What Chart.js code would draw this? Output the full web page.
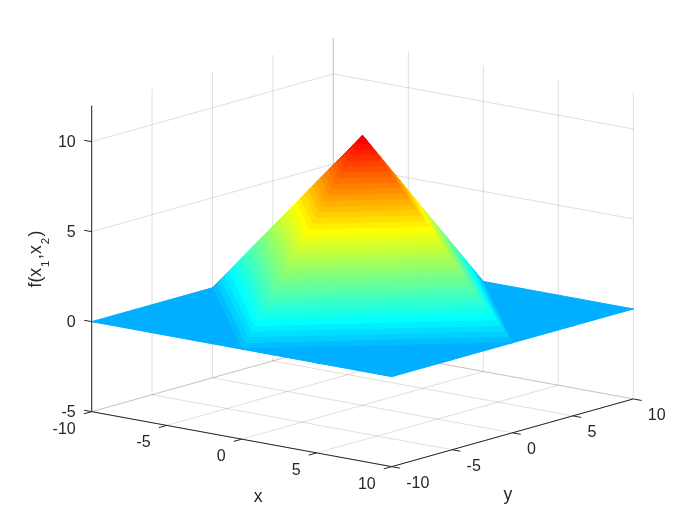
<!DOCTYPE html>
<html>
<head>
<meta charset="utf-8">
<title>f(x1,x2)</title>
<script src="https://cdn.jsdelivr.net/npm/chart.js@4"></script>
<style>
  html, body { margin: 0; padding: 0; background: #fff; }
  canvas { display: block; }
</style>
</head>
<body>
<canvas id="surfaceChart" width="700" height="525"></canvas>
<script>
// Surface values
const gridX = [-10, -5, 0, 5, 10];
const gridY = [-10, -5, 0, 5, 10];
const surfaceZ = [
  [0, 0, 0, 0, 0],
  [0, 0, 5, 0, 0],
  [0, 5, 10, 5, 0],
  [0, 0, 5, 0, 0],
  [0, 0, 0, 0, 0],
];

// Axes
const xTicks = [-10, -5, 0, 5, 10];
const yTicks = [-10, -5, 0, 5, 10];
const zTicks = [-5, 0, 5, 10];
const xLimits = [-10, 10];
const yLimits = [-10, 10];
const zLimits = [-5, 12];

const TEXT_COLOR = "rgb(38,38,38)";
const GRID_COLOR = "rgba(38,38,38,0.15)";
const TICK_FONT = '16px "Liberation Sans", Arial, sans-serif';
const TITLE_FONT = '17.6px "Liberation Sans", Arial, sans-serif';
const SUB_FONT = '11.5px "Liberation Sans", Arial, sans-serif';

// Orthographic view, same as the plot's 3D camera
function project(x, y, z) {
  return { x: 15 * x + 12.08 * y, y: 18 * z - 2.75 * x + 3.385 * y };
}

function depth(x, y, z) {
  return 216.9 * x - 270 * y + 84.7 * z;
}

// MATLAB jet colormap, 64 levels
function jetColors(m) {
  const n = Math.ceil(m / 4);
  const u = [];
  for (let i = 1; i <= n; i++) u.push(i / n);
  for (let i = 1; i < n; i++) u.push(1);
  for (let i = n; i >= 1; i--) u.push(i / n);
  const start = Math.ceil(n / 2);
  const out = [];
  for (let i = 0; i < m; i++) {
    const g = u[i - start] || 0;
    const r = u[i - start - n] || 0;
    const b = u[i - start + n] || 0;
    out.push(`rgb(${Math.round(r * 255)},${Math.round(g * 255)},${Math.round(b * 255)})`);
  }
  return out;
}
const jet = jetColors(64);
const levelSize = (zLimits[1] - zLimits[0]) / 64;

function levelOf(z) {
  return Math.min(63, Math.floor((z - zLimits[0]) / levelSize));
}

// Keep the part of a polygon on one side of a height
function clipAt(poly, z, keepAbove) {
  const out = [];
  for (let i = 0; i < poly.length; i++) {
    const a = poly[i];
    const b = poly[(i + 1) % poly.length];
    const aIn = keepAbove ? a[2] >= z : a[2] <= z;
    const bIn = keepAbove ? b[2] >= z : b[2] <= z;
    if (aIn) out.push(a);
    if (aIn !== bIn) {
      const t = (z - a[2]) / (b[2] - a[2]);
      out.push([a[0] + t * (b[0] - a[0]), a[1] + t * (b[1] - a[1]), z]);
    }
  }
  return out;
}

// Split each grid cell in two, along the diagonal with the smaller height change
function buildTriangles() {
  const tris = [];
  for (let j = 0; j < gridY.length - 1; j++) {
    for (let i = 0; i < gridX.length - 1; i++) {
      const a = [gridX[i], gridY[j], surfaceZ[j][i]];
      const b = [gridX[i + 1], gridY[j], surfaceZ[j][i + 1]];
      const c = [gridX[i + 1], gridY[j + 1], surfaceZ[j + 1][i + 1]];
      const d = [gridX[i], gridY[j + 1], surfaceZ[j + 1][i]];
      if (Math.abs(a[2] - c[2]) <= Math.abs(b[2] - d[2])) {
        tris.push([a, b, c], [a, c, d]);
      } else {
        tris.push([a, b, d], [b, c, d]);
      }
    }
  }
  const key = (t) =>
    (depth(t[0][0], t[0][1], t[0][2]) + depth(t[1][0], t[1][1], t[1][2]) + depth(t[2][0], t[2][1], t[2][2])) / 3;
  return tris.sort((p, q) => key(p) - key(q));
}

function polyDataset(poly, color) {
  const pts = poly.map((p) => project(p[0], p[1], p[2]));
  pts.push(pts[0]);
  return {
    data: pts,
    showLine: true,
    fill: "shape",
    backgroundColor: color,
    borderColor: color,
    borderWidth: 1,
    pointRadius: 0,
    tension: 0,
  };
}

function lineDataset(from, to, color) {
  return {
    data: [project(from[0], from[1], from[2]), project(to[0], to[1], to[2])],
    showLine: true,
    fill: false,
    borderColor: color,
    borderWidth: 1,
    pointRadius: 0,
    tension: 0,
  };
}

const datasets = [];
const [x0, x1] = xLimits;
const [y0, y1] = yLimits;
const [z0, z1] = zLimits;

// Grid on the floor and the two back walls
xTicks.forEach((x) => {
  datasets.push(lineDataset([x, y0, z0], [x, y1, z0], GRID_COLOR));
  datasets.push(lineDataset([x, y1, z0], [x, y1, z1], GRID_COLOR));
});
yTicks.forEach((y) => {
  datasets.push(lineDataset([x0, y, z0], [x1, y, z0], GRID_COLOR));
  datasets.push(lineDataset([x0, y, z0], [x0, y, z1], GRID_COLOR));
});
zTicks.forEach((z) => {
  datasets.push(lineDataset([x0, y0, z], [x0, y1, z], GRID_COLOR));
  datasets.push(lineDataset([x0, y1, z], [x1, y1, z], GRID_COLOR));
});

// Surface, back to front, cut into colormap bands
buildTriangles().forEach((tri) => {
  const zs = tri.map((p) => p[2]);
  const lo = levelOf(Math.min(...zs));
  const hi = levelOf(Math.max(...zs));
  if (lo === hi) {
    datasets.push(polyDataset(tri, jet[lo]));
    return;
  }
  for (let level = lo; level <= hi; level++) {
    const bottom = zLimits[0] + level * levelSize;
    let poly = clipAt(tri, bottom, true);
    if (poly.length) poly = clipAt(poly, bottom + levelSize, false);
    if (poly.length >= 3) datasets.push(polyDataset(poly, jet[level]));
  }
});

// Axis lines and tick marks
datasets.push(lineDataset([x0, y0, z0], [x1, y0, z0], TEXT_COLOR));
datasets.push(lineDataset([x1, y0, z0], [x1, y1, z0], TEXT_COLOR));
datasets.push(lineDataset([x0, y0, z0], [x0, y0, z1], TEXT_COLOR));
xTicks.forEach((x) => datasets.push(lineDataset([x, y0, z0], [x, y0 - 0.66, z0], TEXT_COLOR)));
yTicks.forEach((y) => datasets.push(lineDataset([x1, y, z0], [x1 + 0.55, y, z0], TEXT_COLOR)));
zTicks.forEach((z) => datasets.push(lineDataset([x0, y0, z], [x0 - 0.5, y0, z], TEXT_COLOR)));

// Chart.js paints lower order on top, so the list order becomes paint order
datasets.forEach((ds, i) => {
  ds.order = datasets.length - i;
});

// Tick labels and axis titles
const axisText = {
  id: "axisText",
  afterDraw(chart) {
    const ctx = chart.ctx;
    const sx = chart.scales.x;
    const sy = chart.scales.y;
    const at = (x, y, z) => {
      const p = project(x, y, z);
      return [sx.getPixelForValue(p.x), sy.getPixelForValue(p.y)];
    };
    ctx.save();
    ctx.fillStyle = TEXT_COLOR;
    ctx.textBaseline = "middle";
    ctx.font = TICK_FONT;

    ctx.textAlign = "right";
    xTicks.forEach((x) => {
      const [px, py] = at(x, y0, z0);
      ctx.fillText(String(x), px - 16, py + 17.5);
    });
    zTicks.forEach((z) => {
      const [px, py] = at(x0, y0, z);
      ctx.fillText(String(z), px - 16, py + 1);
    });

    ctx.textAlign = "left";
    yTicks.forEach((y) => {
      const [px, py] = at(x1, y, z0);
      ctx.fillText(String(y), px + 14.5, py + 17);
    });

    ctx.font = TITLE_FONT;
    ctx.textAlign = "center";
    const [xx, xy] = at(0, y0, z0);
    ctx.fillText("x", xx + 16.5, xy + 58);
    const [yx, yy] = at(x1, 0, z0);
    ctx.fillText("y", yx - 4.5, yy + 62);

    // z title with subscripts, turned 90 degrees
    const parts = [
      ["f(x", TITLE_FONT, 0, 1],
      ["1", SUB_FONT, 7.5, 1.5],
      [",x", TITLE_FONT, 0, 1],
      ["2", SUB_FONT, 7.5, 1.5],
      [")", TITLE_FONT, 0, 0],
    ];
    let width = 0;
    parts.forEach((part) => {
      ctx.font = part[1];
      width += ctx.measureText(part[0]).width + part[3];
    });
    ctx.translate(41, 259);
    ctx.rotate(-Math.PI / 2);
    ctx.textAlign = "left";
    ctx.textBaseline = "alphabetic";
    let pos = -width / 2;
    parts.forEach((part) => {
      ctx.font = part[1];
      ctx.fillText(part[0], pos, part[2]);
      pos += ctx.measureText(part[0]).width + part[3];
    });
    ctx.restore();
  },
};

new Chart(document.getElementById("surfaceChart"), {
  type: "scatter",
  data: { datasets: datasets },
  plugins: [axisText],
  options: {
    responsive: false,
    animation: false,
    layout: { padding: 0 },
    plugins: { legend: { display: false }, tooltip: { enabled: false } },
    scales: {
      x: { type: "linear", display: false, min: -362.5, max: 337.5 },
      y: { type: "linear", display: false, min: -209.7, max: 315.3 },
    },
  },
});
</script>
</body>
</html>
